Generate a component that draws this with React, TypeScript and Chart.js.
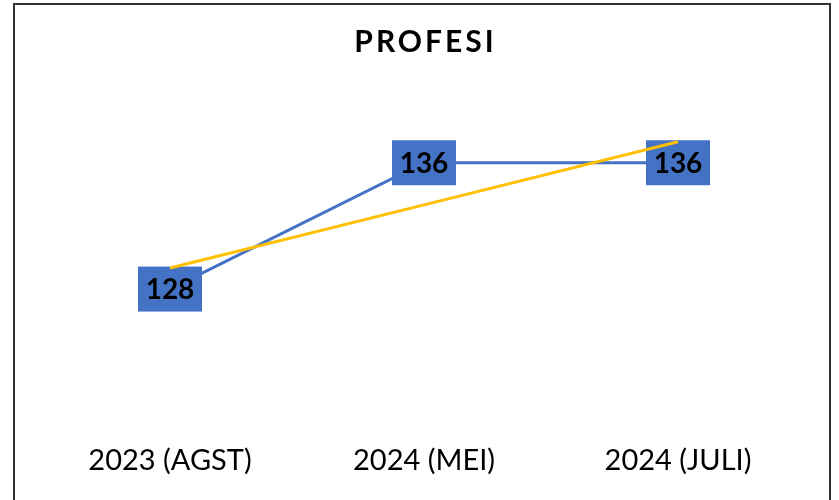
import React, { useEffect, useRef } from "react";
import { Chart, registerables } from "chart.js";

Chart.register(...registerables);

const categories = ["2023 (AGST)", "2024 (MEI)", "2024 (JULI)"];
const values = [128, 136, 136];
const chartTitle = "PROFESI";

// Linear trendline (least squares), as Excel's trendline
function linearTrend(ys: number[]): number[] {
  const n = ys.length;
  const xs = ys.map((_, i) => i);
  const mx = xs.reduce((a, b) => a + b, 0) / n;
  const my = ys.reduce((a, b) => a + b, 0) / n;
  let num = 0;
  let den = 0;
  for (let i = 0; i < n; i++) {
    num += (xs[i] - mx) * (ys[i] - my);
    den += (xs[i] - mx) * (xs[i] - mx);
  }
  const slope = num / den;
  const b = my - slope * mx;
  return xs.map((x) => b + slope * x);
}

const FONT = "Lato, 'Open Sans', sans-serif";
const BLUE = "#4472C4";
const GOLD = "#FFC000";

const labelPlugin = {
  id: "boxLabels",
  afterDatasetDraw(chart: any, args: any) {
    if (args.index !== 0) return;
    const ctx = chart.ctx;
    const meta = chart.getDatasetMeta(0);
    ctx.save();
    ctx.font = `bold 28px ${FONT}`;
    ctx.textAlign = "center";
    ctx.textBaseline = "middle";
    meta.data.forEach((pt: any, i: number) => {
      const txt = String(chart.data.datasets[0].data[i]);
      const w = 64;
      const h = 45;
      ctx.fillStyle = BLUE;
      ctx.fillRect(pt.x - w / 2, pt.y - h / 2, w, h);
      ctx.fillStyle = "#000";
      ctx.fillText(txt, pt.x, pt.y + 1);
    });
    ctx.restore();
  },
};

const titlePlugin = {
  id: "spacedTitle",
  afterDraw(chart: any) {
    const tb = chart.titleBlock;
    if (!tb) return;
    const ctx = chart.ctx;
    ctx.save();
    ctx.font = `bold 30px ${FONT}`;
    (ctx as any).letterSpacing = "3px";
    ctx.textAlign = "center";
    ctx.textBaseline = "middle";
    ctx.fillStyle = "#000";
    const cx = (chart.chartArea.left + chart.chartArea.right) / 2 + 1.5;
    const cy = tb.top + tb.options.padding.top + 18;
    ctx.fillText(chartTitle, cx, cy);
    ctx.restore();
  },
};

export default function App() {
  const ref = useRef<HTMLCanvasElement | null>(null);
  useEffect(() => {
    document.body.style.margin = "0";
    document.body.style.overflow = "hidden";
    if (!ref.current) return;
    const chart = new Chart(ref.current, {
      type: "line",
      data: {
        labels: categories,
        datasets: [
          {
            label: "Profesi",
            data: values,
            borderColor: BLUE,
            borderWidth: 3,
            pointRadius: 0,
            tension: 0,
            order: 2,
          },
          {
            label: "Trend",
            data: linearTrend(values),
            borderColor: GOLD,
            borderWidth: 3,
            pointRadius: 0,
            tension: 0,
            order: 1,
          },
        ],
      },
      options: {
        animation: false,
        responsive: false,
        layout: { padding: { left: 28, right: 24, top: 0, bottom: 10 } },
        plugins: {
          legend: { display: false },
          tooltip: { enabled: false },
          title: {
            display: true,
            text: chartTitle,
            color: "rgba(0,0,0,0)",
            font: { family: FONT, size: 30, weight: "bold", lineHeight: 1.2 },
            padding: { top: 19, bottom: 8 },
          },
        },
        scales: {
          x: {
            offset: true,
            grid: { display: false, drawTicks: false },
            border: { display: false },
            ticks: {
              color: "#000",
              padding: 12,
              font: { family: FONT, size: 29, lineHeight: 1.2 },
            },
          },
          y: {
            display: false,
            min: 119,
            max: 142,
          },
        },
      },
      plugins: [labelPlugin, titlePlugin],
    });
    return () => chart.destroy();
  }, []);

  return (
    <div
      style={{
        position: "absolute",
        left: 13,
        top: 3,
        width: 814,
        height: 495,
        border: "2px solid #333",
        borderBottom: "none",
        background: "#fff",
      }}
    >
      <canvas ref={ref} width={814} height={495} style={{ display: "block" }} />
    </div>
  );
}
